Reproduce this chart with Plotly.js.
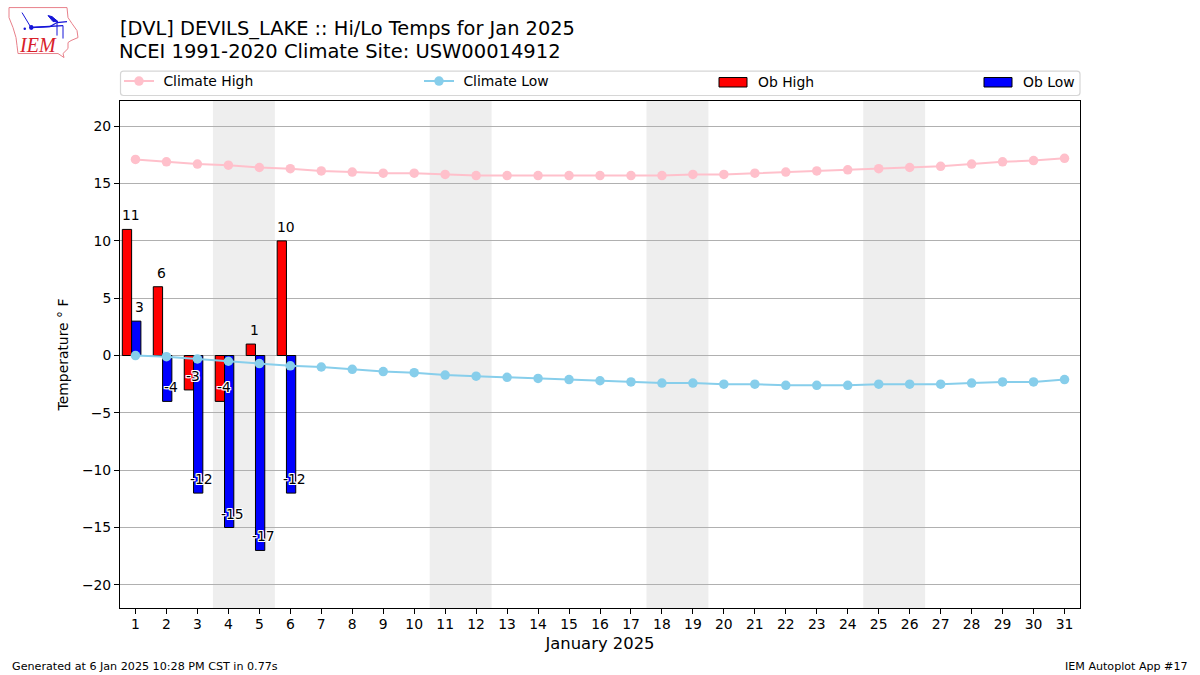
<!DOCTYPE html>
<html><head><meta charset="utf-8">
<script src="https://cdn.plot.ly/plotly-3.0.1.min.js"></script>
<style>html,body{margin:0;padding:0;background:#fff}</style>
</head><body><div id="chart" style="width:1200px;height:675px"></div>
<script>
const days = [1,2,3,4,5,6,7,8,9,10,11,12,13,14,15,16,17,18,19,20,21,22,23,24,25,26,27,28,29,30,31];
const climateHigh = [17.1,16.9,16.7,16.6,16.4,16.3,16.1,16.0,15.9,15.9,15.8,15.7,15.7,15.7,15.7,15.7,15.7,15.7,15.8,15.8,15.9,16.0,16.1,16.2,16.3,16.4,16.5,16.7,16.9,17.0,17.2];
const climateLow = [0.0,-0.1,-0.3,-0.5,-0.7,-0.9,-1.0,-1.2,-1.4,-1.5,-1.7,-1.8,-1.9,-2.0,-2.1,-2.2,-2.3,-2.4,-2.4,-2.5,-2.5,-2.6,-2.6,-2.6,-2.5,-2.5,-2.5,-2.4,-2.3,-2.3,-2.1];
const obDays = [1,2,3,4,5,6];
const obHigh = [11,6,-3,-4,1,10];
const obLow = [3,-4,-12,-15,-17,-12];
const weekends = [[3.5,5.5],[10.5,12.5],[17.5,19.5],[24.5,26.5]];
const yTicks = [-20,-15,-10,-5,0,5,10,15,20];

const FONT = 'DejaVu Sans, sans-serif';
const L = 120, R = 1080, T = 100.5, B = 608;
const px = x => (x - L) / (R - L);
const py = y => (B - y) / (B - T);
const halo = '1px 0 0 #fff,-1px 0 0 #fff,0 1px 0 #fff,0 -1px 0 #fff,1px 1px 0 #fff,-1px -1px 0 #fff,1px -1px 0 #fff,-1px 1px 0 #fff';

const traces = [
  {type:'bar', x:obDays, y:obHigh, name:'Ob High', offset:-0.425, width:0.3, showlegend:false,
   marker:{color:'#ff0000', line:{color:'#000', width:1}}},
  {type:'bar', x:obDays, y:obLow, name:'Ob Low', offset:-0.125, width:0.3, showlegend:false,
   marker:{color:'#0000ff', line:{color:'#000', width:1}}},
  {type:'scatter', mode:'lines+markers', x:days, y:climateHigh, name:'\u00a0Climate High', legend:'legend',
   line:{color:'#ffc0cb', width:2}, marker:{color:'#ffc0cb', size:9.5}},
  {type:'scatter', mode:'lines+markers', x:days, y:climateLow, name:'\u00a0Climate Low', legend:'legend2',
   line:{color:'#87ceeb', width:2}, marker:{color:'#87ceeb', size:9.5}}
];

const spanShapes = weekends.map(w => ({type:'rect', layer:'below', xref:'x', yref:'paper',
  x0:w[0], x1:w[1], y0:0, y1:1, fillcolor:'#eeeeee', line:{width:0}}));

const r = 3, fx0 = 120.5, fx1 = 1080, fy0 = 70.5, fy1 = 95;
const framePath = `M ${px(fx0+r)} ${py(fy0)} L ${px(fx1-r)} ${py(fy0)} Q ${px(fx1)} ${py(fy0)} ${px(fx1)} ${py(fy0+r)} L ${px(fx1)} ${py(fy1-r)} Q ${px(fx1)} ${py(fy1)} ${px(fx1-r)} ${py(fy1)} L ${px(fx0+r)} ${py(fy1)} Q ${px(fx0)} ${py(fy1)} ${px(fx0)} ${py(fy1-r)} L ${px(fx0)} ${py(fy0+r)} Q ${px(fx0)} ${py(fy0)} ${px(fx0+r)} ${py(fy0)} Z`;
const frameShape = {type:'path', xref:'paper', yref:'paper', path:framePath, layer:'above',
  fillcolor:'rgba(255,255,255,0.8)', line:{color:'#d6d6d6', width:1.2}};
const swatch = (x0, x1, color) => ({type:'rect', xref:'paper', yref:'paper', layer:'above',
  x0:px(x0), x1:px(x1), y0:py(86.5), y1:py(77), fillcolor:color, line:{color:'#000', width:1}});

// logo drawing
const poly = (pts) => 'M ' + pts.map(p => `${px(p[0])} ${py(p[1])}`).join(' L ');
const logoPath = (pts, color, width, closed) => ({type:'path', xref:'paper', yref:'paper', layer:'above',
  path:poly(pts)+(closed?' Z':''), fillcolor:closed && color!=='#e8808a' ? color : 'rgba(0,0,0,0)', line:{color, width}});
const logoOutline = [[9,7],[67,7],[68,17],[72,23],[77,30],[78,37],[71,40],[68,42],[68,48],[63,53],[64,57],[58,53],[18,53],[17,45],[16,37],[13,27],[9,17]];
const logoShapes = [
  logoPath(logoOutline,'#e8808a',1,true),
  logoPath([[31,27],[50,26],[57,22],[67,21]],'#1515d8',1.2,false),
  logoPath([[31,27],[63,25]],'#1515d8',1.4,false),
  logoPath([[22,12],[31,27]],'#1515d8',1,false),
  logoPath([[48,15],[52,16],[58,21],[53,21]],'#1515d8',1,true),
  logoPath([[57,22],[57,35]],'#1515d8',1,false),
  logoPath([[63,25],[63,38]],'#1515d8',1,false),
  {type:'circle', xref:'paper', yref:'paper', layer:'above', x0:px(29), x1:px(33.5), y0:py(29.5), y1:py(24.5), fillcolor:'#1515d8', line:{width:0}},
  {type:'circle', xref:'paper', yref:'paper', layer:'above', x0:px(23.5), x1:px(26), y0:py(29.5), y1:py(27), fillcolor:'#1515d8', line:{width:0}}
];

const textNote = (x, y, text, size, extra) => Object.assign({xref:'paper', yref:'paper', x:px(x), y:py(y), text, showarrow:false,
  font:{family:FONT, size, color:'#000'}}, extra);

const hiLabels = obHigh.map((v,i) => ({xref:'x', yref:'y', x:obDays[i], y:v, text:String(v), showarrow:false, xshift:-4.5, yshift:14,
  font:{family:FONT, size:13.9, color:'#000', shadow:v < 0 ? halo : 'none'}}));
const loLabels = obLow.map((v,i) => ({xref:'x', yref:'y', x:obDays[i], y:v, text:String(v), showarrow:false, xshift:4.5, yshift:14,
  font:{family:FONT, size:13.9, color:'#000', shadow:v < 0 ? halo : 'none'}}));

const legendBase = {orientation:'h', xref:'paper', yref:'paper', xanchor:'left', yanchor:'middle', y:py(81),
  bgcolor:'rgba(0,0,0,0)', borderwidth:0, itemwidth:30, font:{family:FONT, size:13.9, color:'#000'}};

const layout = {
  width:1200, height:675, paper_bgcolor:'#fff', plot_bgcolor:'rgba(0,0,0,0)',
  margin:{l:L, r:1200-R, t:T, b:675-B, pad:0},
  font:{family:FONT, size:13.9, color:'#000'},
  title:{text:'[DVL] DEVILS_LAKE :: Hi/Lo Temps for Jan 2025', xref:'paper', x:0, xanchor:'left', yref:'container', y:1-28/675, yanchor:'middle', pad:{l:0},
    font:{family:FONT, size:19.4, color:'#000'}},
  barmode:'overlay', hovermode:false,
  xaxis:{range:[0.5,31.5], tickmode:'array', tickvals:days, ticktext:days.map(String), ticks:'outside', ticklen:5, tickwidth:1, tickcolor:'#000',
    showgrid:false, zeroline:false, showline:true, linecolor:'#000', linewidth:1, mirror:true, ticklabelstandoff:-2,
    tickfont:{family:FONT, size:13.9, color:'#000'}, tickangle:0,
    title:{text:'January 2025', font:{family:FONT, size:16.4, color:'#000'}, standoff:6}},
  yaxis:{range:[-22.02,22.2], tickmode:'array', tickvals:yTicks, ticktext:yTicks.map(v=>v<0?'\u2212'+(-v):String(v)), ticks:'outside', ticklen:5, tickwidth:1, tickcolor:'#000',
    showgrid:true, gridcolor:'#b0b0b0', gridwidth:1, zeroline:false, showline:true, linecolor:'#000', linewidth:1, mirror:true,
    tickfont:{family:FONT, size:13.9, color:'#000'},
    title:{text:'Temperature \u00b0 F', font:{family:FONT, size:13.9, color:'#000'}, standoff:10}},
  showlegend:true,
  legend:Object.assign({}, legendBase, {x:px(119)}),
  legend2:Object.assign({}, legendBase, {x:px(419)}),
  shapes:[...spanShapes, frameShape, swatch(719,747,'#ff0000'), swatch(984,1012,'#0000ff'), ...logoShapes],
  annotations:[
    ...hiLabels, ...loLabels,
    textNote(117,50.5,'NCEI 1991-2020 Climate Site: USW00014912',19.5,{xanchor:'left', yanchor:'middle'}),
    textNote(756,81,'Ob High',13.9,{xanchor:'left', yanchor:'middle'}),
    textNote(1021,81,'Ob Low',13.9,{xanchor:'left', yanchor:'middle'}),
    textNote(10,667,'Generated at 6 Jan 2025 10:28 PM CST in 0.77s',11.15,{xanchor:'left', yanchor:'middle'}),
    textNote(1190,667,'IEM Autoplot App #17',11.1,{xanchor:'right', yanchor:'middle'}),
    {xref:'paper', yref:'paper', x:px(38), y:py(44), text:'<i>IEM</i>', showarrow:false, xanchor:'center', yanchor:'middle',
      font:{family:'Liberation Serif, serif', size:20, color:'#d8202a'}}
  ]
};
Plotly.newPlot('chart', traces, layout, {displayModeBar:false, staticPlot:true});
</script></body></html>
